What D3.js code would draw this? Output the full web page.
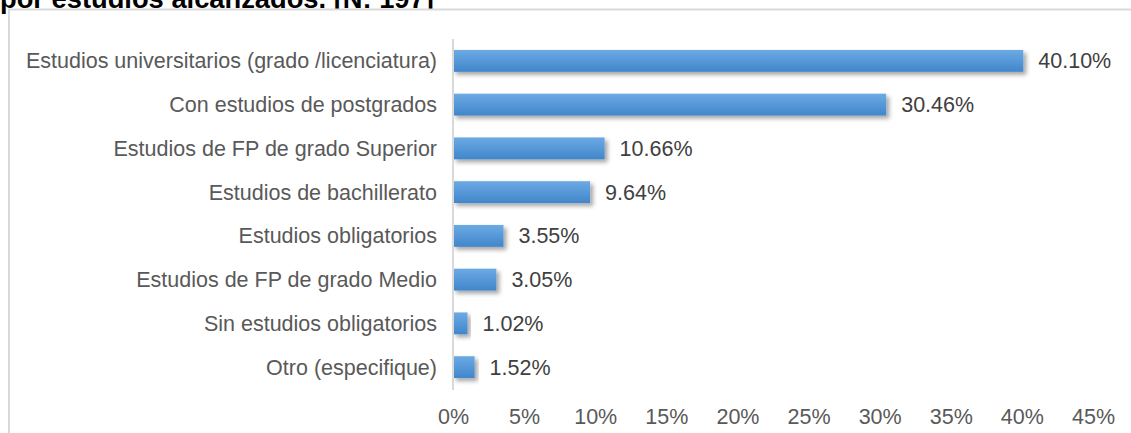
<!DOCTYPE html>
<html>
<head>
<meta charset="utf-8">
<script src="https://cdn.jsdelivr.net/npm/d3@7"></script>
<style>
  body { margin: 0; background: #fff; }
  svg { display: block; font-family: "Liberation Sans", Arial, sans-serif; }
</style>
</head>
<body>
<svg id="chart" width="1131" height="433"></svg>
<script>
// data
let categories = [
  "Estudios universitarios (grado /licenciatura)",
  "Con estudios de postgrados",
  "Estudios de FP de grado Superior",
  "Estudios de bachillerato",
  "Estudios obligatorios",
  "Estudios de FP de grado Medio",
  "Sin estudios obligatorios",
  "Otro (especifique)"
];
let values = [40.10, 30.46, 10.66, 9.64, 3.55, 3.05, 1.02, 1.52];
let valueLabels = ["40.10%", "30.46%", "10.66%", "9.64%", "3.55%", "3.05%", "1.02%", "1.52%"];
let tickValues = [0, 5, 10, 15, 20, 25, 30, 35, 40, 45];
let titleText = "por estudios alcanzados. [N: 197]";

let width = 1131, height = 433;
let fontSize = 21.5;
let svg = d3.select("#chart");

let defs = svg.append("defs");
let grad = defs.append("linearGradient")
    .attr("id", "barGrad")
    .attr("x1", 0).attr("y1", 0).attr("x2", 0).attr("y2", 1);
grad.append("stop").attr("offset", "0%").attr("stop-color", "#6caae4");
grad.append("stop").attr("offset", "100%").attr("stop-color", "#4186cb");

let shadow = defs.append("filter")
    .attr("id", "shadow")
    .attr("x", "-10%").attr("y", "-30%")
    .attr("width", "130%").attr("height", "180%");
shadow.append("feDropShadow")
    .attr("dx", 3).attr("dy", 3)
    .attr("stdDeviation", 2)
    .attr("flood-color", "#000")
    .attr("flood-opacity", 0.35);

// title (cut off at the top like the source)
svg.append("text")
    .attr("x", 0)
    .attr("y", 8)
    .attr("font-weight", "bold")
    .attr("font-size", 27.3)
    .attr("fill", "#000")
    .text(titleText);

// chart frame
svg.append("rect")
    .attr("x", 9).attr("y", 9.5)
    .attr("width", width).attr("height", height)
    .attr("fill", "#fff")
    .attr("stroke", "#d9d9d9")
    .attr("stroke-width", 2);

let x = d3.scaleLinear().domain([0, 45]).range([453, 1093]);
let y = d3.scaleBand().domain(categories).range([39, 389]).paddingInner(0.5).paddingOuter(0.25);

// bars
svg.append("g").selectAll("rect")
    .data(values)
    .enter()
    .append("rect")
    .attr("x", x(0))
    .attr("y", (d, i) => y(categories[i]))
    .attr("width", d => x(d) - x(0))
    .attr("height", y.bandwidth())
    .attr("fill", "url(#barGrad)")
    .attr("filter", "url(#shadow)");

// vertical axis line
svg.append("line")
    .attr("x1", x(0)).attr("x2", x(0))
    .attr("y1", 39).attr("y2", 390)
    .attr("stroke", "#d9d9d9")
    .attr("stroke-width", 2);

// category labels
svg.append("g").selectAll("text")
    .data(categories)
    .enter()
    .append("text")
    .attr("x", 437)
    .attr("y", d => y(d) + y.bandwidth() / 2)
    .attr("dy", "0.35em")
    .attr("text-anchor", "end")
    .attr("font-size", fontSize)
    .attr("fill", "#595959")
    .text(d => d);

// value labels
svg.append("g").selectAll("text")
    .data(values)
    .enter()
    .append("text")
    .attr("x", d => x(d) + 15)
    .attr("y", (d, i) => y(categories[i]) + y.bandwidth() / 2)
    .attr("dy", "0.35em")
    .attr("font-size", fontSize)
    .attr("fill", "#404040")
    .text((d, i) => valueLabels[i]);

// x axis tick labels
let xAxis = d3.axisBottom(x)
    .tickValues(tickValues)
    .tickSize(0)
    .tickPadding(0)
    .tickFormat(d => d + "%");

let axisG = svg.append("g")
    .attr("transform", "translate(0,409)")
    .call(xAxis);
axisG.select(".domain").remove();
axisG.selectAll("text")
    .attr("font-size", fontSize)
    .attr("font-family", "Liberation Sans, Arial, sans-serif")
    .attr("fill", "#595959");
</script>
</body>
</html>
